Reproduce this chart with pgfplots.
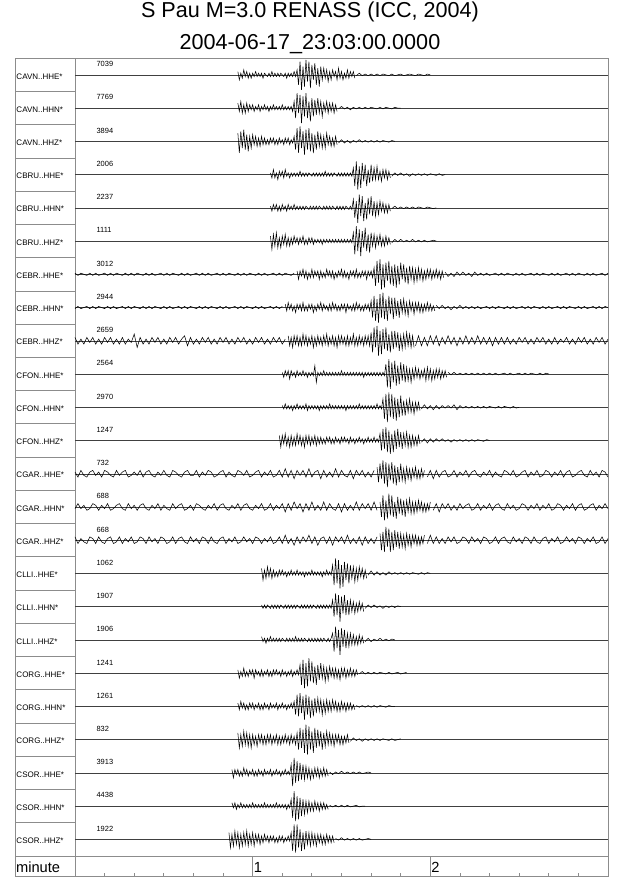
\documentclass[border=0pt]{standalone}
\usepackage{fontspec}
\setmainfont{Liberation Sans}
\usepackage{pgfplots}
\pgfplotsset{compat=1.18}
\definecolor{fr}{gray}{0.55}
\tikzset{tr/.style={black,line width=0.4pt},bl/.style={black!75,line width=0.3pt}}
\newcommand{\seg}[5][20]{\addplot[tr] table[header=false,row sep=\\,x expr={#3+#4*\coordindex},y expr={\thisrowno{0}/#1-#2-0.5}]{#5};}
\newcommand{\base}[1]{\addplot[bl] table[header=false,row sep=\\,y expr={\thisrowno{1}/20-#1-0.5}]{0 0\\180 0\\};}
\newcommand{\lab}[4]{\node[anchor=base west,inner sep=0pt,font=\fontsize{6}{7}\selectfont] at (axis cs:-19.85,#1){#3};
\node[anchor=base west,inner sep=0pt,font=\fontsize{5.6}{6.5}\selectfont] at (axis cs:7.2,#2){#4};}
\begin{document}
\begin{tikzpicture}
\useasboundingbox (-11.25pt,-1pt) rectangle (468.75pt,657.5pt);
\begin{axis}[at={(0,0)},anchor=south west,scale only axis,width=444.75pt,height=613.8pt,
 xmin=-20.26,xmax=180,ymin=-24.623,ymax=0,clip=false,
 axis line style={fr,line width=0.6pt},
 ytick=\empty,xtick={60,120},minor xtick={10,20,...,170},xticklabels={},
 xtick pos=lower,tick align=inside,major tick length=15.53pt,minor tick length=3pt,
 tick style={fr,line width=0.6pt}]
\draw[fr,line width=0.6pt] (axis cs:0,0) -- (axis cs:0,-24.623);
\draw[fr,line width=0.6pt] (axis cs:-20.26,-24) -- (axis cs:180,-24);
\pgfplotsinvokeforeach{1,...,23}{\draw[fr,line width=0.6pt] (axis cs:-20.26,-#1) -- (axis cs:0,-#1);}
\node[anchor=base west,inner sep=0pt,font=\fontsize{11}{13}\selectfont] at (axis cs:-20.0,-24.50){minute};
\node[anchor=base west,inner sep=0pt,font=\fontsize{11}{13}\selectfont] at (axis cs:60.3,-24.50){1};
\node[anchor=base west,inner sep=0pt,font=\fontsize{11}{13}\selectfont] at (axis cs:120.3,-24.50){2};
\lab{-0.625}{-0.255}{CAVN..HHE*}{7039}
\lab{-1.625}{-1.255}{CAVN..HHN*}{7769}
\lab{-2.625}{-2.255}{CAVN..HHZ*}{3894}
\lab{-3.625}{-3.255}{CBRU..HHE*}{2006}
\lab{-4.625}{-4.255}{CBRU..HHN*}{2237}
\lab{-5.625}{-5.255}{CBRU..HHZ*}{1111}
\lab{-6.625}{-6.255}{CEBR..HHE*}{3012}
\lab{-7.625}{-7.255}{CEBR..HHN*}{2944}
\lab{-8.625}{-8.255}{CEBR..HHZ*}{2659}
\lab{-9.625}{-9.255}{CFON..HHE*}{2564}
\lab{-10.625}{-10.255}{CFON..HHN*}{2970}
\lab{-11.625}{-11.255}{CFON..HHZ*}{1247}
\lab{-12.625}{-12.255}{CGAR..HHE*}{732}
\lab{-13.625}{-13.255}{CGAR..HHN*}{688}
\lab{-14.625}{-14.255}{CGAR..HHZ*}{668}
\lab{-15.625}{-15.255}{CLLI..HHE*}{1062}
\lab{-16.625}{-16.255}{CLLI..HHN*}{1907}
\lab{-17.625}{-17.255}{CLLI..HHZ*}{1906}
\lab{-18.625}{-18.255}{CORG..HHE*}{1241}
\lab{-19.625}{-19.255}{CORG..HHN*}{1261}
\lab{-20.625}{-20.255}{CORG..HHZ*}{832}
\lab{-21.625}{-21.255}{CSOR..HHE*}{3913}
\lab{-22.625}{-22.255}{CSOR..HHN*}{4438}
\lab{-23.625}{-23.255}{CSOR..HHZ*}{1922}
% row 0 CAVN HHE
\base{0}
\seg{0}{55}{0.5}{2\\-3\\1\\-2\\3\\-1\\2\\-2\\1\\-2\\1\\-1\\2\\-1\\1\\-1\\1\\-2\\1\\0\\-1\\1\\-1\\2\\-1\\1\\-1\\1\\-1\\1\\0\\-1\\1\\-2\\1\\-1\\1\\-1\\2\\-1\\3\\-6\\8\\-9\\5\\-7\\9\\-4\\8\\-8\\6\\-3\\7\\-6\\4\\-7\\5\\-3\\4\\-2\\3\\-4\\2\\-3\\3\\-1\\2\\-3\\4\\-2\\2\\-3\\1\\-2\\3\\-2\\2\\-1\\2\\-2\\}
\seg[40]{0}{95}{1}{-1\\2\\-1\\1\\-1\\1\\-1\\1\\-1\\1\\0\\-1\\1\\-1\\0\\1\\-1\\0\\1\\0\\-1\\1\\0\\-1\\1\\0\\}
% row 1 CAVN HHN
\base{1}
\seg{1}{55}{0.5}{3\\-2\\4\\-3\\2\\-3\\3\\-2\\2\\-1\\2\\-2\\1\\-1\\2\\-2\\1\\-1\\2\\-1\\1\\-2\\1\\-1\\2\\-1\\1\\-1\\1\\-1\\2\\-1\\1\\-1\\1\\-1\\1\\-2\\4\\-6\\9\\-3\\8\\-9\\7\\-5\\9\\-6\\4\\-8\\6\\-5\\5\\-4\\6\\-3\\4\\-5\\3\\-2\\4\\-3\\3\\-2\\3\\-3\\2\\-2\\}
\seg[40]{1}{89}{1}{-1\\2\\-1\\1\\-2\\1\\-1\\1\\-1\\1\\-1\\1\\0\\-1\\1\\-1\\1\\0\\-1\\1\\0\\0\\}
% row 2 CAVN HHZ
\base{2}
\seg{2}{55}{0.5}{5\\-7\\6\\-4\\7\\-5\\4\\-6\\3\\-4\\4\\-2\\3\\-3\\2\\-3\\3\\-2\\2\\-2\\1\\-2\\2\\-1\\2\\-2\\1\\-2\\2\\-1\\1\\-2\\2\\-1\\2\\-2\\1\\-1\\3\\-5\\8\\-7\\9\\-4\\6\\-8\\7\\-5\\8\\-6\\5\\-7\\4\\-5\\6\\-3\\4\\-4\\3\\-4\\5\\-2\\3\\-3\\2\\-3\\3\\-2\\}
\seg[40]{2}{89}{1}{-2\\2\\-2\\1\\-2\\1\\-1\\2\\-1\\1\\-1\\1\\-1\\1\\-1\\1\\0\\-1\\1\\0\\}
% row 3 CBRU HHE
\base{3}
\seg{3}{66}{0.5}{1\\-2\\3\\-2\\1\\-3\\2\\-1\\2\\-2\\3\\-1\\1\\-2\\1\\-1\\1\\-1\\1\\-1\\2\\-1\\1\\-1\\1\\-1\\1\\0\\-1\\1\\-1\\1\\-1\\1\\-1\\1\\-1\\2\\-1\\1\\-1\\1\\-1\\1\\0\\-1\\1\\-1\\1\\-1\\1\\-1\\1\\-1\\1\\-1\\4\\-7\\8\\-9\\5\\-8\\7\\-4\\6\\-7\\3\\-5\\6\\-4\\4\\-3\\5\\-3\\2\\-4\\3\\-2\\3\\-3\\2\\-2\\}
\seg[40]{3}{107}{1}{-2\\2\\-1\\2\\-1\\1\\-2\\1\\-1\\1\\-1\\1\\-1\\1\\0\\-1\\1\\-1\\0\\}
% row 4 CBRU HHN
\base{4}
\seg{4}{66}{0.5}{1\\-2\\2\\-1\\2\\-2\\1\\-2\\2\\-1\\1\\-2\\2\\-1\\1\\-1\\2\\-1\\1\\-1\\1\\-1\\1\\-1\\1\\0\\-1\\1\\-1\\1\\-1\\1\\-1\\1\\0\\-1\\1\\-1\\1\\-1\\1\\-1\\1\\0\\-1\\1\\-1\\1\\-1\\1\\-1\\1\\0\\-1\\1\\-1\\5\\-6\\4\\-9\\8\\-5\\7\\-8\\3\\-7\\6\\-4\\7\\-5\\4\\-5\\3\\-4\\4\\-2\\3\\-3\\2\\-3\\2\\-2\\}
\seg[40]{4}{107}{1}{-1\\2\\-1\\1\\-1\\1\\-1\\1\\-1\\1\\0\\-1\\1\\0\\-1\\0\\}
% row 5 CBRU HHZ
\base{5}
\seg{5}{66}{0.5}{3\\-5\\4\\-3\\5\\-4\\2\\-4\\3\\-2\\4\\-3\\2\\-3\\2\\-2\\3\\-1\\2\\-2\\2\\-1\\3\\-2\\1\\-2\\2\\-1\\2\\-2\\1\\-1\\1\\-1\\1\\-2\\1\\-1\\1\\-1\\1\\-1\\1\\-1\\1\\-1\\1\\-1\\1\\-1\\1\\-1\\1\\-1\\1\\-1\\5\\-8\\9\\-6\\7\\-9\\6\\-4\\8\\-6\\4\\-7\\5\\-3\\4\\-4\\3\\-2\\4\\-3\\2\\-3\\3\\-2\\2\\-2\\}
\seg[40]{5}{107}{1}{-2\\2\\-1\\2\\-1\\1\\-1\\2\\-1\\1\\-1\\1\\-1\\0\\1\\0\\}
% row 6 CEBR HHE
\base{6}
\seg[30]{6}{0}{1}{1\\-1\\1\\0\\-1\\1\\-1\\1\\-1\\0\\1\\-1\\1\\-1\\1\\0\\-1\\1\\-1\\1\\-1\\1\\0\\-1\\1\\-1\\1\\-1\\0\\1\\-1\\1\\-1\\1\\0\\-1\\1\\-1\\1\\-1\\0\\1\\-1\\1\\-1\\1\\-1\\0\\1\\-1\\1\\-1\\1\\0\\-1\\1\\-1\\1\\-1\\1\\0\\-1\\1\\-1\\1\\-1\\0\\1\\-1\\1\\-1\\1\\0\\-1\\1\\}
\seg{6}{75}{0.5}{2\\-3\\2\\-1\\3\\-2\\2\\-3\\1\\-2\\3\\-2\\2\\-1\\2\\-3\\2\\-2\\1\\-2\\3\\-1\\2\\-2\\2\\-3\\1\\-2\\2\\-1\\3\\-2\\2\\-2\\1\\-3\\2\\-1\\2\\-2\\3\\-2\\1\\-2\\2\\-1\\2\\-3\\2\\-1\\2\\-2\\4\\-7\\8\\-5\\9\\-9\\6\\-8\\7\\-4\\8\\-6\\5\\-7\\6\\-8\\5\\-6\\7\\-3\\6\\-5\\4\\-6\\5\\-3\\4\\-5\\3\\-4\\4\\-3\\3\\-4\\2\\-3\\3\\-2\\3\\-3\\2\\-2\\3\\-2\\2\\-3\\2\\-2\\}
\seg[30]{6}{125}{1}{2\\-2\\1\\-2\\2\\-1\\2\\-1\\1\\-2\\2\\-1\\1\\-1\\1\\-1\\0\\1\\-1\\1\\-1\\1\\0\\-1\\1\\-1\\1\\-1\\0\\1\\-1\\1\\-1\\1\\0\\-1\\1\\-1\\1\\-1\\0\\1\\-1\\1\\-1\\1\\0\\-1\\1\\-1\\1\\-1\\0\\1\\-1\\1\\}
% row 7 CEBR HHN
\base{7}
\seg[30]{7}{0}{1}{-1\\1\\-1\\0\\1\\-1\\1\\-1\\1\\0\\-1\\1\\-1\\1\\-1\\0\\1\\-1\\1\\-1\\1\\0\\-1\\1\\-1\\1\\-1\\1\\0\\-1\\1\\-1\\1\\-1\\0\\1\\-1\\1\\-1\\1\\0\\-1\\1\\-1\\1\\-1\\1\\0\\-1\\1\\-1\\1\\-1\\0\\1\\-1\\1\\-1\\1\\0\\-1\\1\\-1\\1\\-1\\0\\1\\-1\\1\\-1\\1\\}
\seg{7}{71}{0.5}{2\\-2\\3\\-1\\2\\-2\\1\\-3\\2\\-1\\2\\-2\\3\\-2\\1\\-2\\2\\-1\\2\\-3\\1\\-2\\2\\-1\\3\\-2\\2\\-1\\1\\-2\\2\\-2\\3\\-1\\2\\-2\\1\\-2\\2\\-1\\2\\-3\\2\\-1\\1\\-2\\2\\-2\\3\\-1\\2\\-2\\1\\-2\\2\\-1\\2\\-2\\4\\-6\\7\\-8\\5\\-9\\8\\-6\\9\\-7\\5\\-8\\7\\-4\\6\\-7\\6\\-5\\4\\-6\\5\\-3\\5\\-4\\3\\-5\\4\\-2\\3\\-4\\3\\-2\\3\\-3\\2\\-3\\2\\-2\\3\\-2\\2\\-2\\1\\-2\\}
\seg[30]{7}{122}{1}{2\\-1\\2\\-1\\1\\-2\\1\\-1\\2\\-1\\1\\-1\\1\\-1\\1\\-1\\0\\1\\-1\\1\\-1\\1\\0\\-1\\1\\-1\\1\\-1\\0\\1\\-1\\1\\-1\\1\\0\\-1\\1\\-1\\1\\-1\\0\\1\\-1\\1\\-1\\1\\0\\-1\\1\\-1\\1\\-1\\0\\1\\-1\\1\\-1\\1\\0\\}
% row 8 CEBR HHZ
\base{8}
\seg{8}{0}{1}{2\\-2\\1\\-2\\2\\-1\\2\\-2\\1\\-2\\2\\-1\\2\\-2\\1\\-2\\2\\-2\\1\\-1\\4\\-4\\2\\-2\\1\\-2\\2\\-1\\2\\-2\\1\\-2\\2\\-1\\2\\-2\\1\\3\\-3\\2\\-2\\1\\-2\\2\\-1\\2\\-2\\1\\-2\\2\\-1\\2\\-2\\1\\-2\\2\\-1\\2\\-2\\1\\-2\\2\\-1\\2\\-2\\1\\-2\\2\\-1\\2\\-2\\1\\}
\seg{8}{72}{0.5}{3\\-3\\2\\-4\\3\\-2\\3\\-3\\2\\-3\\4\\-2\\3\\-3\\2\\-2\\3\\-4\\2\\-3\\3\\-2\\2\\-3\\3\\-2\\4\\-3\\2\\-2\\3\\-3\\2\\-4\\3\\-2\\3\\-2\\2\\-3\\3\\-3\\2\\-2\\4\\-3\\2\\-3\\3\\-2\\2\\-3\\3\\-2\\3\\-3\\5\\-7\\8\\-4\\9\\-9\\6\\-8\\7\\-5\\8\\-6\\4\\-7\\6\\-5\\6\\-4\\5\\-6\\3\\-5\\4\\-4\\5\\-3\\4\\-4\\3\\-4\\}
\seg{8}{115}{1}{-3\\3\\-3\\2\\-3\\3\\-2\\3\\-3\\2\\-2\\3\\-2\\2\\-3\\2\\-2\\3\\-2\\2\\-2\\3\\-2\\2\\-2\\2\\-3\\2\\-2\\2\\-2\\2\\-2\\1\\-2\\2\\-1\\2\\-2\\1\\-2\\2\\-1\\2\\-2\\1\\-2\\2\\-2\\1\\-1\\2\\-2\\1\\-2\\2\\-1\\2\\-2\\1\\-2\\2\\-1\\2\\-2\\1\\}
% row 9 CFON HHE
\base{9}
\seg{9}{70}{0.5}{1\\-2\\2\\-1\\2\\-3\\2\\-1\\1\\-2\\2\\-1\\1\\-1\\2\\-1\\1\\-2\\1\\-1\\1\\-1\\5\\-5\\1\\-1\\1\\-1\\2\\-1\\1\\-1\\1\\-1\\1\\-1\\1\\-1\\1\\-1\\2\\-1\\1\\-1\\1\\-1\\1\\-1\\1\\-1\\1\\-1\\1\\-1\\1\\-2\\1\\-1\\1\\-1\\1\\-1\\1\\-1\\1\\-1\\1\\-1\\1\\-1\\6\\-8\\9\\-9\\7\\-5\\8\\-7\\5\\-6\\7\\-4\\6\\-5\\4\\-4\\3\\-5\\3\\-3\\4\\-2\\3\\-3\\2\\-2\\3\\-4\\4\\-3\\3\\-4\\2\\-3\\3\\-2\\3\\-3\\2\\-2\\2\\-2\\}
\seg[40]{9}{126}{1}{2\\-1\\2\\-1\\1\\-1\\1\\-1\\1\\-1\\1\\-1\\1\\-1\\1\\-1\\1\\-1\\0\\1\\-1\\1\\-1\\0\\1\\-1\\1\\-1\\1\\0\\-1\\1\\-1\\1\\0\\}
% row 10 CFON HHN
\base{10}
\seg{10}{70}{0.5}{1\\-1\\2\\-1\\1\\-1\\1\\-2\\1\\-1\\2\\-1\\1\\-1\\1\\-1\\2\\-2\\1\\-1\\1\\-1\\1\\-1\\1\\-2\\1\\-1\\1\\-1\\1\\-1\\2\\-1\\1\\-1\\1\\-1\\1\\-1\\1\\-1\\1\\-2\\1\\-1\\1\\-1\\1\\-1\\1\\-1\\2\\-1\\1\\-1\\1\\-1\\1\\-1\\1\\-1\\1\\-1\\2\\-1\\1\\-1\\5\\-7\\8\\-9\\9\\-6\\8\\-7\\6\\-8\\5\\-6\\7\\-5\\4\\-5\\4\\-3\\5\\-3\\3\\-4\\3\\-2\\3\\-2\\}
\seg[40]{10}{117}{1}{-2\\3\\-2\\2\\-3\\2\\-2\\2\\-1\\2\\-1\\3\\-3\\2\\-1\\1\\-1\\1\\-1\\1\\-1\\1\\-1\\1\\0\\-1\\1\\-1\\1\\0\\-1\\1\\-1\\0\\}
% row 11 CFON HHZ
\base{11}
\seg{11}{69}{0.5}{3\\-4\\3\\-2\\4\\-3\\2\\-4\\3\\-3\\2\\-3\\4\\-2\\3\\-3\\2\\-4\\3\\-2\\3\\-3\\2\\-2\\3\\-3\\2\\-2\\2\\-2\\1\\-2\\2\\-1\\2\\-2\\1\\-2\\2\\-1\\1\\-2\\2\\-1\\2\\-1\\1\\-2\\2\\-1\\1\\-2\\1\\-1\\2\\-1\\1\\-2\\1\\-1\\2\\-1\\1\\-1\\2\\-1\\1\\-1\\4\\-6\\7\\-5\\8\\-7\\6\\-8\\4\\-7\\6\\-5\\7\\-4\\5\\-5\\4\\-3\\5\\-4\\3\\-4\\3\\-3\\2\\-3\\3\\-2\\}
\seg[40]{11}{117}{1}{-2\\2\\-3\\2\\-2\\2\\-1\\2\\-1\\1\\-2\\1\\-1\\1\\-1\\1\\-1\\1\\-1\\1\\0\\-1\\1\\0\\}
% row 12 CGAR HHE
\base{12}
\seg{12}{0}{1}{1\\-2\\2\\-1\\-2\\1\\2\\-1\\1\\-2\\2\\1\\-1\\-2\\2\\-1\\1\\2\\-2\\-1\\1\\-1\\2\\-2\\1\\2\\-1\\-2\\1\\-1\\2\\-1\\-2\\2\\1\\-1\\-2\\1\\2\\-1\\-1\\2\\-2\\1\\-1\\2\\1\\-2\\-1\\1\\2\\-2\\1\\-1\\-2\\2\\1\\-1\\2\\-2\\-1\\1\\2\\-2\\1\\-1\\2\\-2\\-1\\2\\-2\\3\\-2\\2\\-3\\2\\-1\\2\\-2\\3\\-2\\1\\2\\-3\\2\\-2\\1\\-2\\3\\-2\\2\\-1\\-2\\2\\-3\\2\\-1\\2\\-2\\1\\-2\\2\\}
\seg{12}{102}{0.5}{4\\-5\\6\\-3\\8\\-6\\7\\-8\\6\\-4\\7\\-6\\5\\-7\\4\\-5\\6\\-4\\3\\-5\\4\\-3\\3\\-4\\3\\-2\\4\\-3\\2\\-3\\3\\-2\\2\\}
\seg{12}{119}{1}{-2\\2\\-3\\2\\-2\\1\\2\\-2\\-1\\2\\-2\\1\\-1\\2\\-2\\1\\2\\-1\\-2\\1\\-1\\2\\-2\\1\\-1\\-2\\2\\1\\-1\\2\\-2\\-1\\1\\2\\-2\\1\\-1\\2\\-2\\-1\\2\\1\\-2\\1\\-1\\2\\-2\\1\\2\\-2\\-1\\1\\2\\-1\\-2\\2\\-1\\1\\-2\\2\\1\\-2\\}
% row 13 CGAR HHN
\base{13}
\seg{13}{0}{1}{-1\\2\\-1\\1\\-2\\-1\\2\\1\\-2\\1\\-1\\2\\-2\\-1\\1\\2\\-1\\-2\\2\\-1\\1\\-2\\1\\2\\-1\\-2\\1\\-1\\2\\-2\\1\\-1\\-2\\2\\-1\\1\\2\\-2\\-1\\1\\-2\\2\\1\\-1\\-2\\1\\-1\\2\\-2\\1\\2\\-1\\-2\\1\\-1\\2\\-2\\1\\2\\-1\\-2\\1\\-1\\2\\-2\\-1\\2\\-2\\1\\-1\\2\\-3\\2\\-2\\3\\-1\\2\\-3\\2\\-2\\3\\-2\\1\\-2\\3\\-2\\2\\-1\\-2\\2\\-3\\2\\-2\\1\\-2\\3\\-2\\2\\-1\\2\\-2\\3\\-2\\}
\seg{13}{103}{0.5}{3\\-6\\7\\-8\\4\\-7\\8\\-5\\7\\-6\\3\\-7\\6\\-4\\5\\-5\\4\\-6\\4\\-3\\5\\-4\\3\\-4\\3\\-3\\4\\-2\\3\\-3\\2\\-3\\2\\-2\\3\\}
\seg{13}{121}{1}{-2\\2\\-3\\2\\-1\\2\\-2\\1\\-2\\2\\-1\\1\\2\\-2\\-1\\2\\-2\\1\\-1\\2\\-2\\1\\2\\-1\\-2\\2\\-1\\1\\-2\\-1\\2\\1\\-2\\1\\-1\\2\\-2\\1\\-1\\2\\-2\\-1\\2\\1\\-2\\1\\-1\\2\\-2\\1\\2\\-2\\-1\\1\\2\\-2\\1\\-1\\2\\-1\\}
% row 14 CGAR HHZ
\base{14}
\seg{14}{0}{1}{2\\-2\\1\\-1\\-2\\2\\1\\-2\\2\\-1\\-2\\1\\2\\-2\\-1\\2\\-2\\1\\-1\\2\\-2\\-1\\2\\1\\-2\\2\\-1\\1\\-2\\2\\1\\-2\\-1\\2\\-2\\1\\2\\-1\\-2\\2\\-1\\1\\-2\\2\\1\\-2\\2\\-1\\-2\\1\\2\\-2\\1\\-1\\2\\-2\\-1\\2\\-1\\1\\-2\\2\\1\\-2\\1\\-1\\2\\-2\\-1\\2\\-2\\3\\-2\\1\\-3\\2\\-2\\2\\-1\\3\\-2\\2\\-3\\1\\2\\-2\\2\\-3\\2\\-1\\2\\-2\\3\\-2\\1\\-2\\2\\-3\\2\\-2\\1\\-2\\2\\}
\seg{14}{103}{0.5}{4\\-6\\5\\-7\\8\\-4\\7\\-7\\5\\-6\\6\\-4\\5\\-5\\4\\-4\\3\\-5\\4\\-3\\3\\-4\\3\\-2\\3\\-3\\2\\-3\\2\\-2\\3\\}
\seg{14}{119}{1}{-2\\3\\-2\\2\\-2\\1\\-2\\2\\-1\\2\\-2\\-1\\2\\1\\-2\\2\\-1\\1\\-2\\2\\1\\-2\\-1\\2\\-2\\1\\2\\-1\\-2\\2\\-1\\1\\-2\\2\\1\\-2\\2\\-1\\-2\\1\\2\\-2\\1\\-1\\2\\-2\\-1\\2\\-1\\1\\-2\\2\\1\\-2\\1\\-1\\2\\-2\\-1\\2\\-2\\1\\}
% row 15 CLLI HHE
\base{15}
\seg{15}{63}{0.5}{3\\-4\\2\\-3\\4\\-2\\3\\-3\\2\\-2\\1\\-2\\2\\-1\\2\\-1\\1\\-2\\1\\-1\\2\\-1\\1\\-1\\2\\-1\\1\\-1\\1\\-2\\1\\-1\\1\\-1\\2\\-1\\1\\-1\\1\\-1\\1\\-2\\1\\-1\\2\\-1\\1\\-1\\5\\-7\\9\\-6\\8\\-9\\5\\-8\\7\\-4\\6\\-6\\5\\-3\\4\\-5\\3\\-4\\4\\-2\\3\\-3\\2\\-3\\}
\seg[40]{15}{99}{1}{-2\\3\\-2\\2\\-2\\1\\-2\\2\\-1\\1\\-1\\1\\-1\\1\\-1\\1\\0\\-1\\1\\-1\\1\\0\\}
% row 16 CLLI HHN
\base{16}
\seg{16}{63}{0.5}{1\\-1\\1\\-1\\1\\0\\-1\\1\\-1\\1\\-1\\1\\-1\\1\\0\\-1\\1\\-1\\1\\-1\\1\\-1\\1\\-1\\1\\0\\-1\\1\\-1\\1\\-1\\1\\-1\\1\\-1\\1\\0\\-1\\1\\-1\\1\\-1\\1\\-1\\1\\-1\\1\\-1\\4\\-6\\8\\-5\\7\\-9\\6\\-4\\7\\-5\\4\\-5\\4\\-3\\3\\-4\\2\\-3\\3\\-2\\2\\-3\\}
\seg[40]{16}{98}{1}{-2\\2\\-1\\2\\-1\\1\\-2\\1\\-1\\1\\-1\\1\\0\\}
% row 17 CLLI HHZ
\base{17}
\seg{17}{63}{0.5}{2\\-1\\1\\-2\\1\\-1\\2\\-1\\1\\-1\\1\\-1\\1\\-1\\1\\0\\-1\\1\\-1\\1\\-1\\1\\-1\\2\\-1\\1\\-1\\1\\-1\\1\\0\\-1\\1\\-1\\1\\-1\\1\\-1\\1\\-1\\1\\-1\\1\\0\\-1\\1\\-1\\1\\4\\-7\\8\\-5\\6\\-9\\7\\-4\\6\\-5\\4\\-4\\4\\-3\\3\\-3\\2\\-3\\3\\-2\\2\\-2\\}
\seg[40]{17}{98}{1}{-2\\2\\-2\\1\\-1\\2\\-1\\1\\-1\\1\\0\\}
% row 18 CORG HHE
\base{18}
\seg{18}{55}{0.5}{2\\-3\\1\\-2\\3\\-2\\1\\-2\\2\\-1\\2\\-3\\2\\-1\\1\\-2\\2\\-2\\1\\-1\\2\\-2\\1\\-2\\2\\-1\\2\\-1\\1\\-2\\2\\-1\\1\\-2\\1\\-1\\2\\-2\\1\\-1\\2\\-1\\5\\-7\\8\\-9\\6\\-8\\9\\-5\\7\\-6\\4\\-7\\5\\-4\\6\\-3\\4\\-5\\3\\-4\\4\\-2\\3\\-3\\3\\-3\\2\\-4\\3\\-2\\3\\-3\\2\\-2\\3\\-2\\2\\-2\\2\\-1\\}
\seg[40]{18}{96}{1}{-1\\2\\-1\\1\\-1\\1\\-1\\1\\0\\-1\\1\\-1\\0\\1\\-1\\0\\1\\}
% row 19 CORG HHN
\base{19}
\seg{19}{55}{0.5}{2\\-2\\3\\-1\\2\\-2\\1\\-2\\2\\-1\\2\\-2\\1\\-1\\2\\-2\\1\\-2\\2\\-1\\1\\-2\\2\\-1\\1\\-1\\2\\-2\\1\\-1\\2\\-1\\1\\-2\\1\\-1\\2\\-1\\3\\-5\\7\\-6\\8\\-4\\6\\-8\\7\\-5\\6\\-7\\4\\-6\\5\\-4\\5\\-3\\4\\-5\\3\\-4\\4\\-3\\3\\-3\\4\\-2\\3\\-3\\2\\-3\\3\\-2\\2\\-3\\2\\-2\\2\\-2\\1\\-2\\}
\seg[40]{19}{95}{1}{1\\-1\\1\\-1\\1\\-1\\1\\-1\\1\\0\\-1\\1\\0\\0\\}
% row 20 CORG HHZ
\base{20}
\seg{20}{55}{0.5}{4\\-5\\3\\-4\\5\\-3\\4\\-4\\3\\-5\\3\\-3\\2\\-4\\3\\-2\\3\\-3\\2\\-3\\3\\-2\\3\\-3\\2\\-2\\3\\-3\\2\\-3\\2\\-2\\3\\-2\\2\\-3\\3\\-2\\2\\-3\\4\\-6\\7\\-5\\6\\-8\\9\\-9\\8\\-6\\5\\-8\\7\\-5\\6\\-4\\5\\-6\\4\\-4\\5\\-3\\4\\-3\\3\\-4\\3\\-2\\3\\-3\\2\\-3\\2\\-2\\3\\-2\\}
\seg[40]{20}{93}{1}{-2\\2\\-1\\1\\-2\\1\\-1\\1\\-1\\1\\-1\\1\\0\\-1\\1\\-1\\0\\1\\}
% row 21 CSOR HHE
\base{21}
\seg{21}{53}{0.5}{2\\-3\\2\\-1\\2\\-2\\1\\-2\\3\\-1\\2\\-2\\1\\-1\\2\\-2\\1\\-2\\2\\-1\\1\\-2\\2\\-1\\1\\-1\\2\\-2\\1\\-1\\2\\-1\\1\\-2\\1\\-1\\2\\-1\\1\\-1\\5\\-8\\9\\-6\\7\\-5\\6\\-4\\5\\-4\\4\\-3\\3\\-4\\2\\-3\\3\\-2\\3\\-3\\2\\-2\\3\\-2\\2\\-2\\}
\seg[40]{21}{86}{1}{1\\-2\\1\\-1\\2\\-1\\1\\-1\\1\\-1\\1\\-1\\0\\1\\0\\}
% row 22 CSOR HHN
\base{22}
\seg{22}{53}{0.5}{2\\-1\\2\\-2\\1\\-1\\2\\-1\\1\\-1\\1\\-1\\1\\-1\\2\\-1\\1\\-1\\1\\-1\\1\\-1\\2\\-1\\1\\-1\\1\\-1\\1\\-1\\2\\-1\\1\\-1\\1\\-1\\1\\-2\\1\\-1\\4\\-7\\9\\-9\\6\\-8\\5\\-6\\4\\-5\\3\\-4\\3\\-3\\2\\-3\\3\\-2\\2\\-3\\2\\-2\\2\\-2\\1\\-2\\}
\seg[40]{22}{86}{1}{1\\-1\\1\\-1\\1\\-1\\1\\-1\\0\\1\\-1\\0\\0\\}
% row 23 CSOR HHZ
\base{23}
\seg{23}{52}{0.5}{4\\-5\\3\\-4\\5\\-3\\4\\-5\\3\\-4\\4\\-3\\5\\-4\\3\\-3\\4\\-4\\3\\-2\\3\\-3\\2\\-2\\3\\-1\\2\\-2\\2\\-1\\2\\-2\\1\\-2\\2\\-1\\2\\-2\\1\\-1\\2\\-1\\4\\-7\\9\\-8\\9\\-5\\6\\-7\\4\\-6\\5\\-3\\4\\-4\\4\\-3\\3\\-4\\3\\-2\\3\\-3\\2\\-3\\3\\-2\\2\\-2\\2\\-2\\}
\seg[40]{23}{88}{1}{1\\-1\\2\\-1\\1\\-1\\1\\-1\\1\\-1\\0\\1\\0\\}
\end{axis}
\node[anchor=base,inner sep=0pt,font=\fontsize{16.2}{19}\selectfont] at (221.25pt,644.4pt) {S Pau M=3.0 RENASS (ICC, 2004)};
\node[anchor=base,inner sep=0pt,font=\fontsize{16.2}{19}\selectfont] at (221.25pt,620pt) {2004-06-17\_23:03:00.0000};
\end{tikzpicture}
\end{document}
